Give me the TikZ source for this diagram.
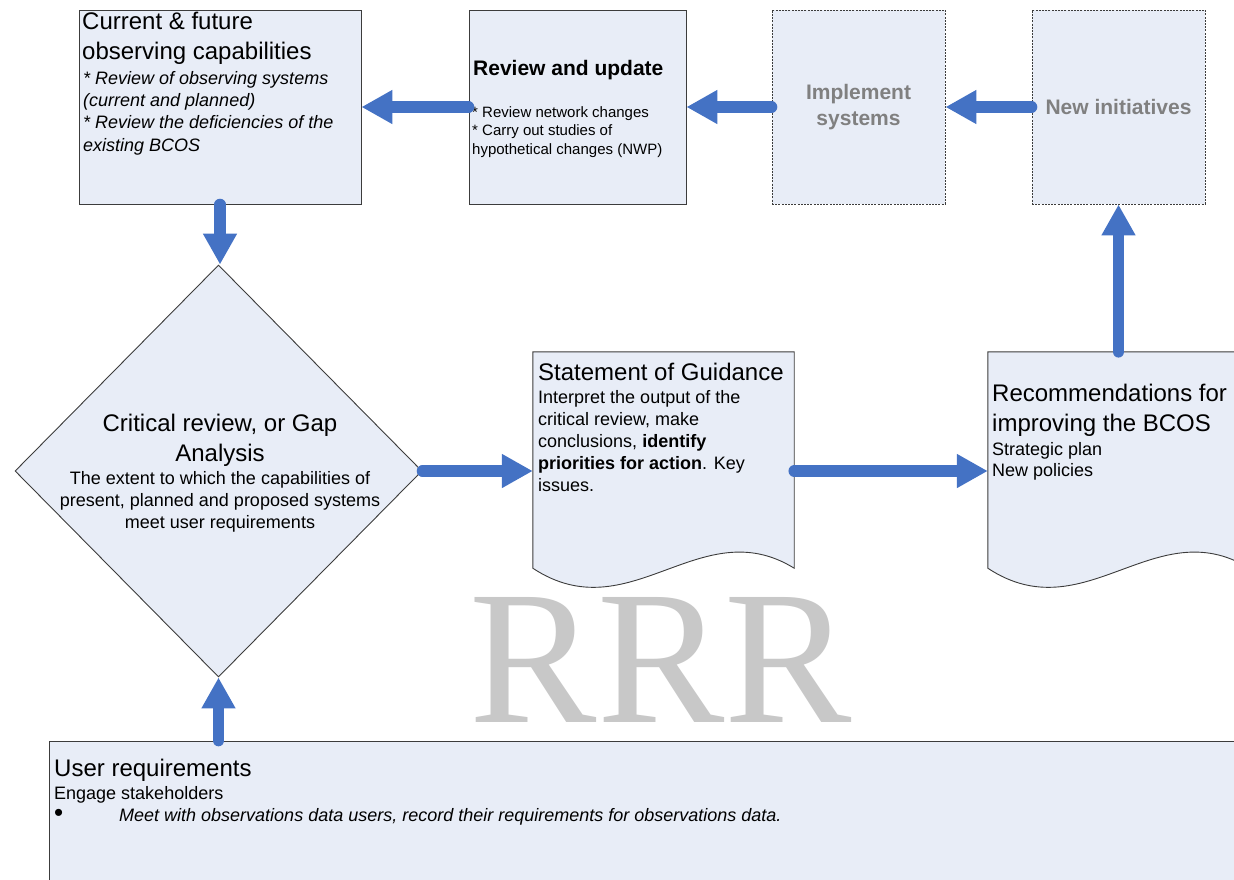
\documentclass[tikz,border=0pt]{standalone}
\usepackage{fontspec}
\setmainfont{Liberation Sans}
\newfontfamily\markfont{Liberation Serif}
\usetikzlibrary{positioning,shapes.geometric,arrows.meta}
\definecolor{flowblue}{RGB}{68,114,196}
\definecolor{boxfill}{RGB}{232,237,247}
\definecolor{boxline}{RGB}{60,60,60}
\definecolor{fadedtext}{RGB}{128,128,128}
\definecolor{markgray}{RGB}{200,200,200}

\begin{document}
\begin{tikzpicture}[x=1pt, y=-1pt,
    box/.style={rectangle, draw=boxline, fill=boxfill, line width=0.9pt, inner sep=0pt},
    planbox/.style={box, dash pattern=on 2pt off 1.2pt, align=center, text=fadedtext, font=\fontsize{21}{26}\selectfont\bfseries},
    frame/.style={rectangle, inner sep=0pt},
    heading/.style={inner sep=0pt, anchor=north west, align=left, font=\fontsize{24}{30}\selectfont},
    body/.style={inner sep=0pt, anchor=north west, align=left, font=\fontsize{18}{22}\selectfont},
    flow/.style={draw=flowblue, line width=11.5pt, line cap=round, -{Triangle[length=31pt,width=32pt]}}
]
\useasboundingbox (0,0) rectangle (1234,879);

% Top row
\node[box, minimum width=282pt, minimum height=194pt] (cur) at (220,107) {};
\node[box, minimum width=217pt, minimum height=194pt] (rev) at (577.5,107) {};
\node[planbox, minimum width=173pt, minimum height=194pt] (impl) at (858.5,107) {Implement\\systems};
\node[planbox, minimum width=173pt, minimum height=194pt] (new) at (1118.5,107) {New initiatives};

% Middle row
\node[diamond, draw=boxline, fill=boxfill, line width=0.9pt, inner sep=0pt, minimum width=407pt, minimum height=412pt] (gap) at (218.5,471) {};
\node[frame, minimum width=261pt, minimum height=216pt] (sog) at (663.5,460) {};
\node[frame, minimum width=261pt, minimum height=216pt] (rec) at (1118.5,460) {};
\foreach \doc in {sog,rec}
  \draw[box] (\doc.north west) -- (\doc.north east) -- (\doc.south east)
    .. controls ([shift={(-94,-58)}]\doc.south east) and ([shift={(97,64)}]\doc.south west) .. (\doc.south west) -- cycle;

% Bottom
\node[box, minimum width=1211pt, minimum height=159pt] (user) at (654.5,820.5) {};

% Watermark
\node[inner sep=0pt, anchor=base, text=markgray, font=\fontsize{191}{191}\markfont] (wm) at (661,722) {RRR};

% Texts
\node[heading] (curT) at (82,12) {Current \& future\\observing capabilities};
\node[body, font=\fontsize{18}{22.3}\selectfont\itshape] (curB) at (83,71) {* Review of observing systems\\(current and planned)\\* Review the deficiencies of the\\existing BCOS};
\node[heading, font=\fontsize{21}{26}\selectfont\bfseries] (revT) at (473,60) {Review and update};
\node[body, font=\fontsize{15}{18.5}\selectfont] (revB) at (472,106) {* Review network changes\\* Carry out studies of\\hypothetical changes (NWP)};
\node[heading, anchor=north, align=center] (gapT) at (220,414) {Critical review, or Gap\\Analysis};
\node[body, anchor=north, align=center] (gapB) at (220,471.5) {The extent to which the capabilities of\\present, planned and proposed systems\\meet user requirements};
\node[heading] (sogT) at (538,363) {Statement of Guidance};
\node[body] (sogB) at (538,390.5) {Interpret the output of the\\critical review, make\\conclusions, \textbf{identify}\\\textbf{priorities for action}. Key\\issues.};
\node[heading] (recT) at (992,384) {Recommendations for\\improving the BCOS};
\node[body, font=\fontsize{18}{21}\selectfont] (recB) at (992,442.5) {Strategic plan\\New policies};
\node[heading] (userT) at (54,759) {User requirements};
\node[body] (userB) at (54,786.5) {Engage stakeholders\\\makebox[65pt][l]{\fontsize{26}{22}\selectfont\textbullet}\textit{Meet with observations data users, record their requirements for observations data.}};

% Arrows
\draw[flow] (rev.west) -- (cur.east);
\draw[flow] (impl.west) -- (rev.east);
\draw[flow] (new.west) -- (impl.east);
\draw[flow] (cur.south) -- (cur.south |- gap.north);
\draw[flow] (gap.south |- user.north) -- (gap.south);
\draw[flow] (gap.east) -- (gap.east -| sog.west);
\draw[flow] (gap.east -| sog.east) -- (gap.east -| rec.west);
\draw[flow] (new.south |- rec.north) -- (new.south);

\end{tikzpicture}
\end{document}
